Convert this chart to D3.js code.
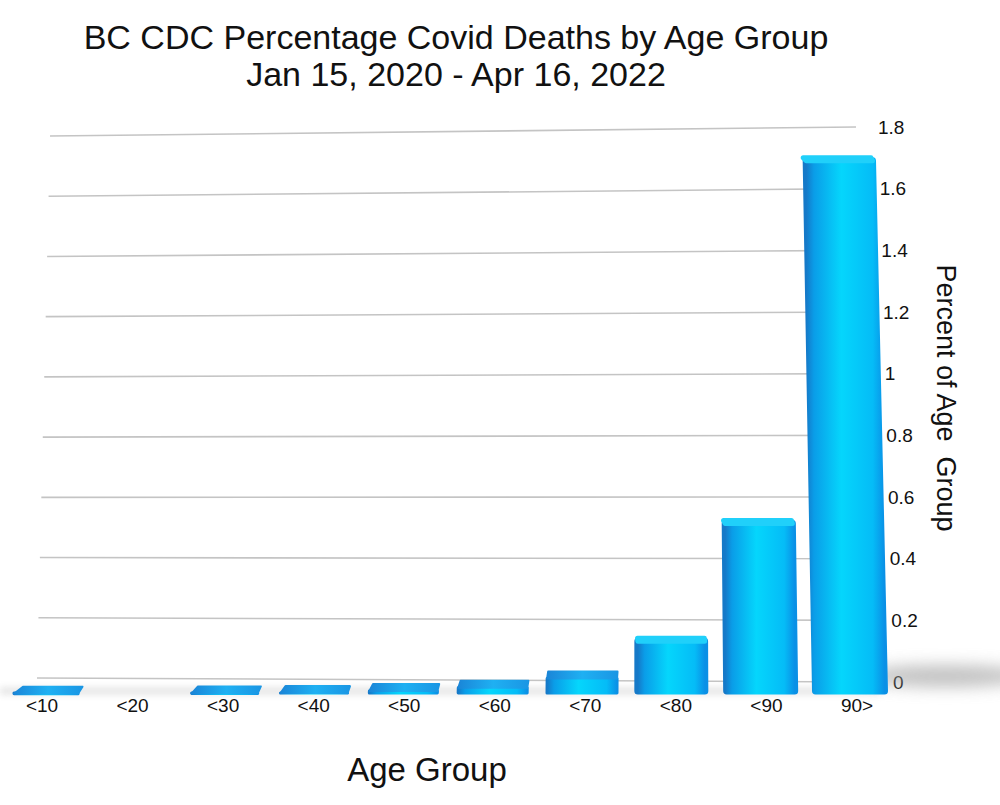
<!DOCTYPE html>
<html>
<head>
<meta charset="utf-8">
<script src="https://cdn.jsdelivr.net/npm/d3@7"></script>
<style>
body { margin: 0; background: #fff; }
text { font-family: "Liberation Sans", Arial, Helvetica, sans-serif; fill: #111; }
</style>
</head>
<body>
<script>
var ageGroups = ["<10", "<20", "<30", "<40", "<50", "<60", "<70", "<80", "<90", "90>"];
var deathPct = [0.001, 0, 0.002, 0.003, 0.01, 0.02, 0.05, 0.17, 0.55, 1.72];
var yTicks = [0, 0.2, 0.4, 0.6, 0.8, 1, 1.2, 1.4, 1.6, 1.8];

var svg = d3.select("body").append("svg")
	.attr("width", 1000)
	.attr("height", 805);

var defs = svg.append("defs");
var g1 = defs.append("linearGradient").attr("id", "front").attr("x1", 0).attr("x2", 1).attr("y1", 0).attr("y2", 0);
[[0, "#1579c8"], [0.1, "#0a9de8"], [0.45, "#05d6fc"], [0.85, "#05bcf7"], [1, "#0a90e6"]].forEach(function(s) {
	g1.append("stop").attr("offset", s[0]).attr("stop-color", s[1]);
});
var g2 = defs.append("linearGradient").attr("id", "top").attr("x1", 0).attr("x2", 1).attr("y1", 0).attr("y2", 0);
[[0, "#1a86d8"], [0.5, "#1fb0f2"], [1, "#1a96e4"]].forEach(function(s) {
	g2.append("stop").attr("offset", s[0]).attr("stop-color", s[1]);
});
defs.append("filter").attr("id", "blur").attr("x", "-50%").attr("y", "-200%").attr("width", "200%").attr("height", "500%")
	.append("feGaussianBlur").attr("stdDeviation", 8);
defs.append("filter").attr("id", "blur2").attr("x", "-10%").attr("y", "-200%").attr("width", "120%").attr("height", "500%")
	.append("feGaussianBlur").attr("stdDeviation", 3);

// back wall scales (lines are a bit skewed)
var yRight = d3.scaleLinear().domain([0, 1.8]).range([682, 127]);
var yLeft = d3.scaleLinear().domain([0, 1.8]).range([678, 136]);
var xLeft = d3.scaleLinear().domain([0, 1.8]).range([37, 50]);
var xLabel = d3.scaleLinear().domain([0, 1.8]).range([893, 878]);

svg.selectAll(".grid").data(yTicks).enter().append("line")
	.attr("class", "grid")
	.attr("x1", function(d) { return xLeft(d); })
	.attr("y1", function(d) { return yLeft(d); })
	.attr("x2", function(d) { return xLabel(d) - 22; })
	.attr("y2", function(d) { return yRight(d); })
	.attr("stroke", "#c4c4c4")
	.attr("stroke-width", 1.6);

svg.selectAll(".ytick").data(yTicks).enter().append("text")
	.attr("class", "ytick")
	.attr("x", function(d) { return xLabel(d); })
	.attr("y", function(d) { return yRight(d); })
	.attr("dy", "0.35em")
	.attr("font-size", 19)
	.text(function(d) { return d; });

// floor shadows
svg.append("rect").attr("x", 0).attr("y", 687).attr("width", 880).attr("height", 8)
	.attr("fill", "#d8d8d8").attr("opacity", 0.6).attr("filter", "url(#blur2)");
svg.append("ellipse").attr("cx", 945).attr("cy", 676).attr("rx", 85).attr("ry", 11)
	.attr("fill", "#999").attr("opacity", 0.6).attr("filter", "url(#blur)");

var x = d3.scalePoint().domain(ageGroups).range([42, 857]);
var barW = d3.scaleLinear().domain([42, 857]).range([66, 75]);
var yFront = d3.scaleLinear().domain([0, 1.8]).range([694, 136]);
var poly = d3.line().curve(d3.curveLinearClosed);

var bars = ageGroups.map(function(a, i) { return { group: a, value: deathPct[i] }; })
	.filter(function(d) { return d.value > 0; });

bars.forEach(function(d) {
	var lx = x(d.group);
	var cx = lx + 4 - (lx - 42) / 815 * 11;
	var w = barW(lx);
	var y0 = yFront(0), y1 = yFront(d.value);
	var h = y0 - y1;
	var tall = d.value > 0.1;
	var ins = tall ? 3 : 1;
	var lean = (cx - 650) * 0.0001 * h;
	var shrink = h * 0.0025;
	var front = [[cx - w / 2 + ins, y0 - ins], [cx + w / 2 - ins, y0 - ins],
		[cx + w / 2 - lean - shrink - ins, y1], [cx - w / 2 - lean + shrink + ins, y1]];
	var dx = 9 - (cx - 42) / 808 * 12;
	var dy = tall ? -3 : -7 + d.value * 2;
	var topFace = [front[3], front[2], [front[2][0] + dx * 0.5, y1 + dy], [front[3][0] + dx, y1 + dy]];
	svg.append("path").attr("d", poly(front))
		.attr("fill", "url(#front)").attr("stroke", "url(#front)")
		.attr("stroke-width", ins * 2 + 1).attr("stroke-linejoin", "round");
	svg.append("path").attr("d", poly(topFace))
		.attr("fill", tall ? "#20d0fa" : "url(#top)")
		.attr("stroke", tall ? "#20d0fa" : "url(#top)")
		.attr("stroke-width", tall ? 5 : 2).attr("stroke-linejoin", "round");
});

svg.selectAll(".xtick").data(ageGroups).enter().append("text")
	.attr("class", "xtick")
	.attr("x", function(d) { return x(d); })
	.attr("y", 712)
	.attr("text-anchor", "middle")
	.attr("font-size", 19)
	.text(function(d) { return d; });

svg.append("text").attr("x", 456).attr("y", 49).attr("text-anchor", "middle").attr("font-size", 34)
	.text("BC CDC Percentage Covid Deaths by Age Group");
svg.append("text").attr("x", 456).attr("y", 86).attr("text-anchor", "middle").attr("font-size", 34)
	.text("Jan 15, 2020 - Apr 16, 2022");
svg.append("text").attr("x", 427).attr("y", 781).attr("text-anchor", "middle").attr("font-size", 33)
	.text("Age Group");
svg.append("text")
	.attr("transform", "translate(937,398) rotate(90)")
	.attr("text-anchor", "middle")
	.attr("font-size", 27)
	.style("white-space", "pre")
	.text("Percent of Age  Group");
</script>
</body>
</html>
